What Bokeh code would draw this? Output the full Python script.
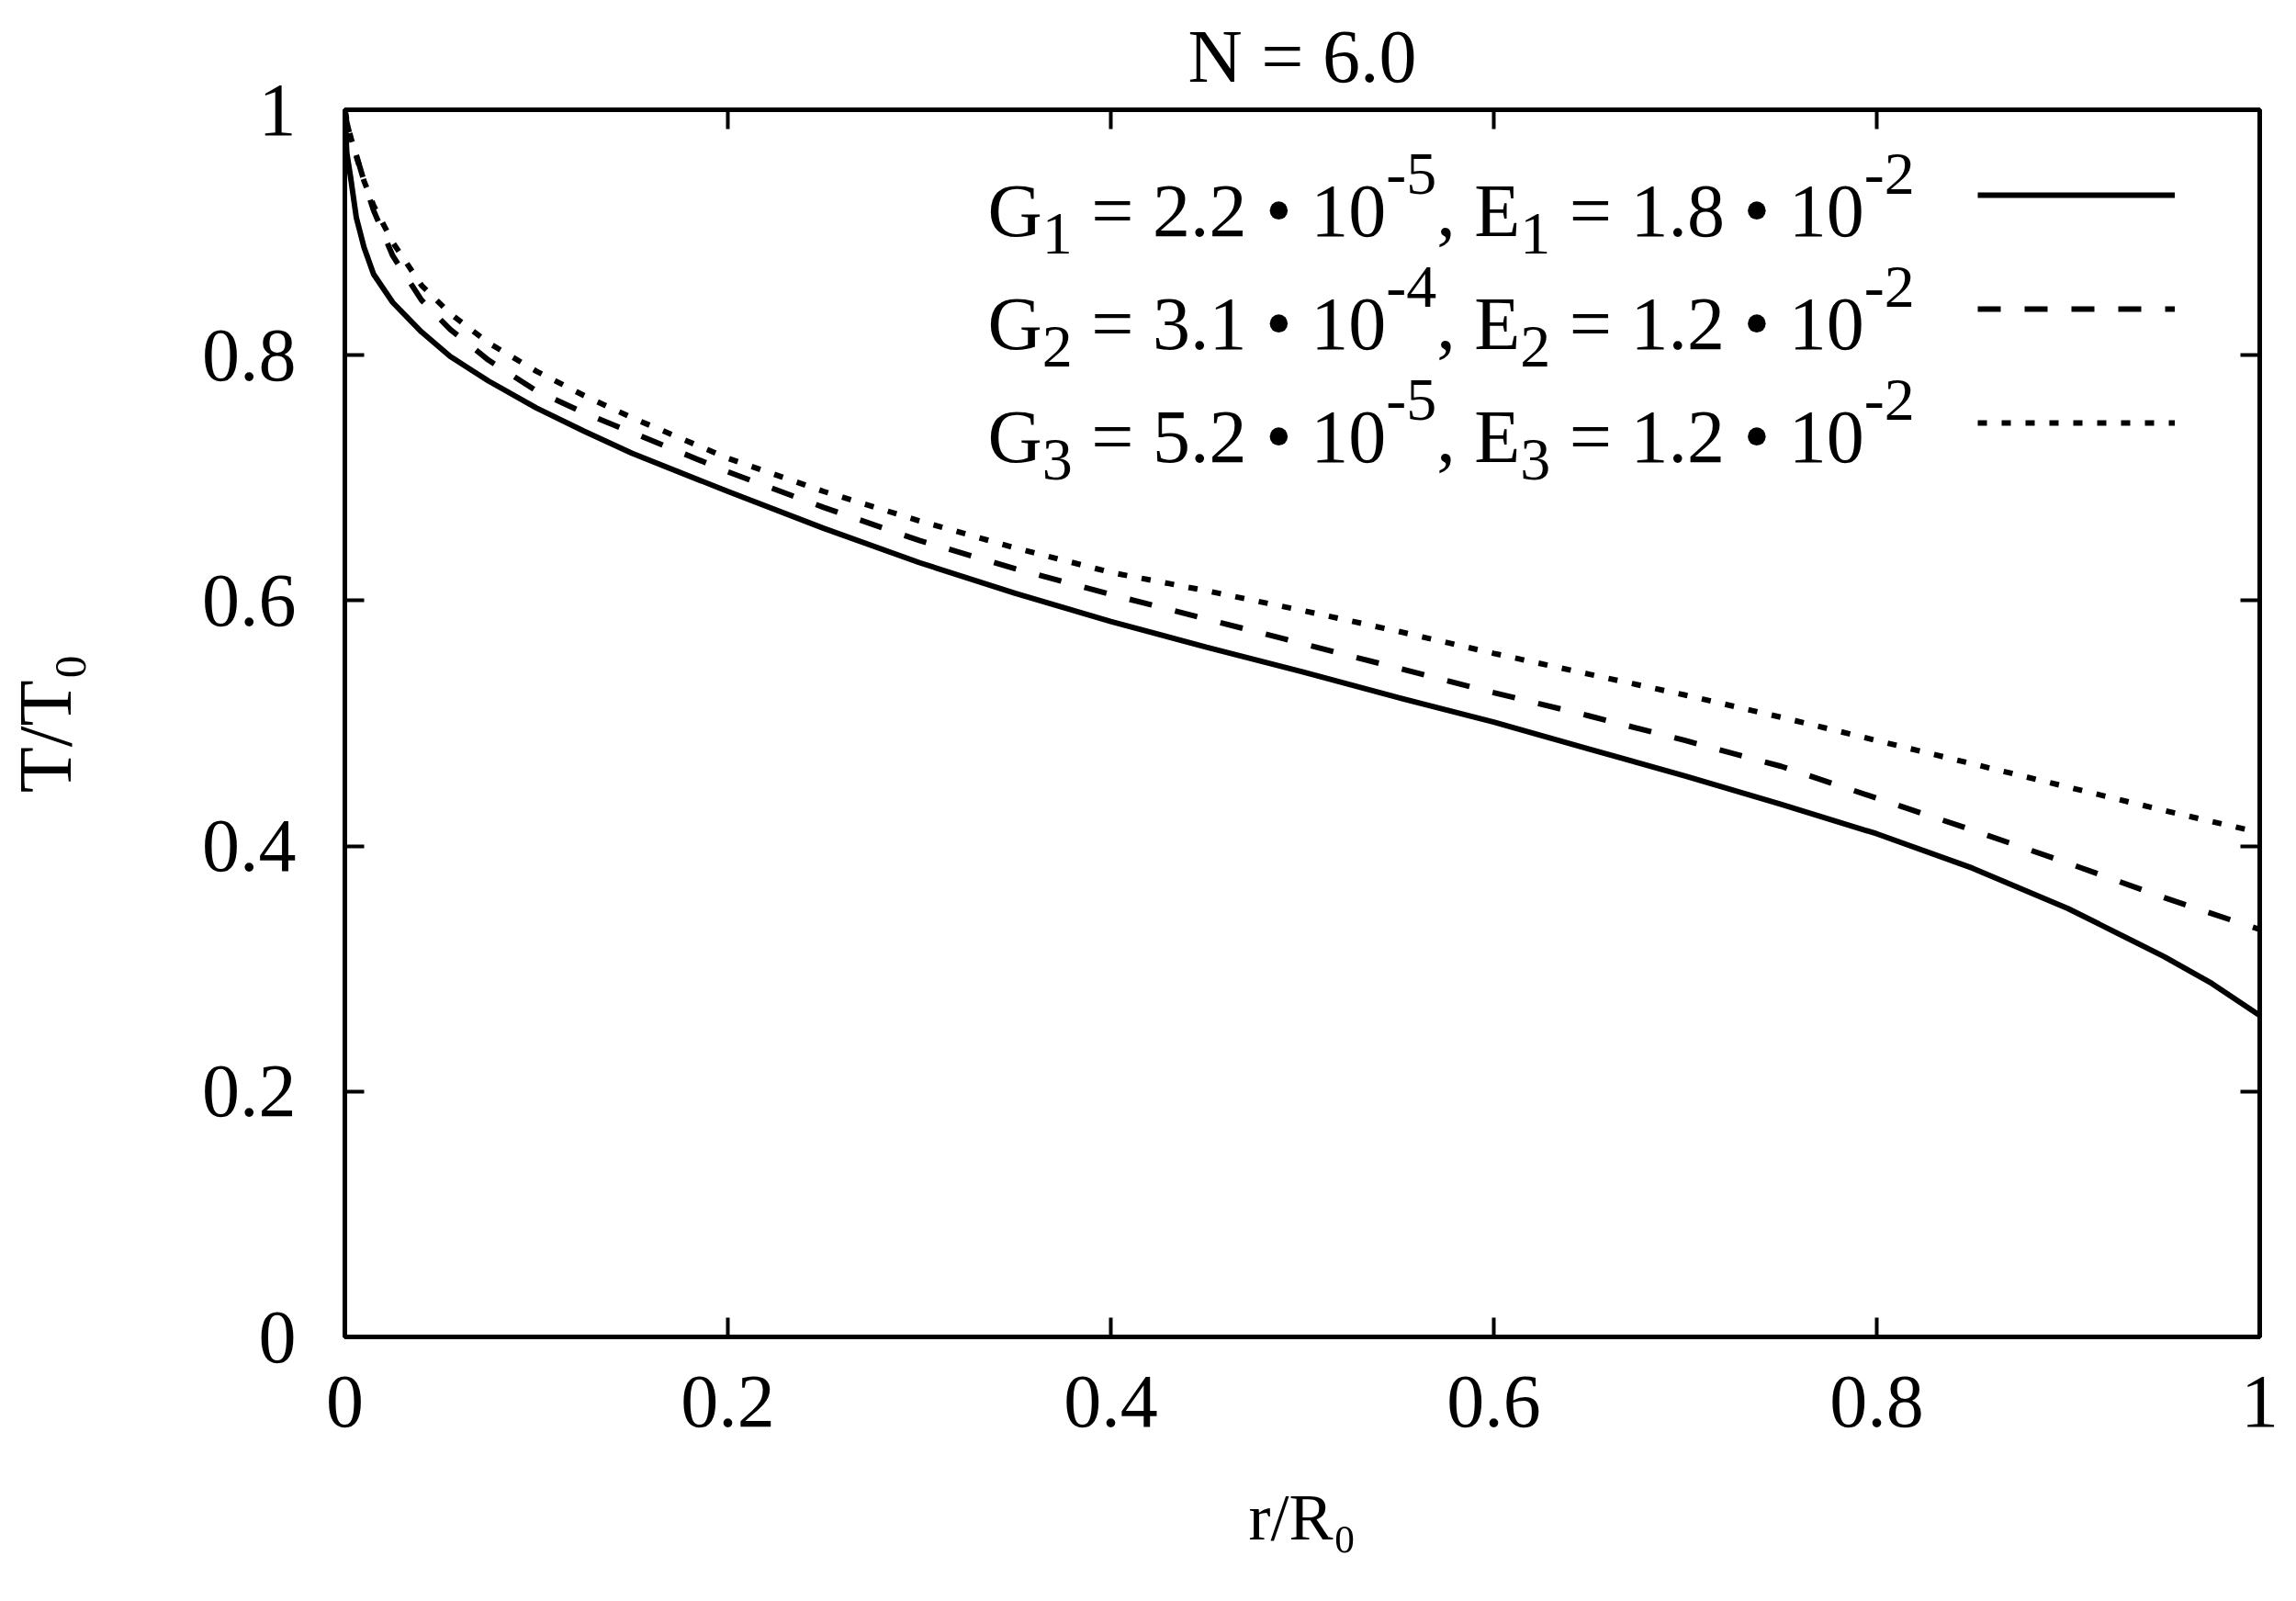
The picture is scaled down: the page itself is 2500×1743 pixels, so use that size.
from bokeh.plotting import figure
from bokeh.models import Label, Legend, LegendItem, LinearAxis, FixedTicker, Range1d
from bokeh.core.properties import value
from bokeh.embed import file_html
from bokeh.resources import INLINE

# ---------------- data ----------------
r = [0.0, 0.001, 0.003, 0.006, 0.01, 0.015, 0.025, 0.04, 0.055, 0.075, 0.1, 0.125, 0.15,
     0.2, 0.25, 0.3, 0.35, 0.4, 0.45, 0.5, 0.55, 0.6, 0.65, 0.7, 0.75, 0.8, 0.85, 0.9,
     0.95, 0.975, 1.0]
T_1 = [1.0, 0.965, 0.945, 0.912, 0.888, 0.866, 0.843, 0.819, 0.799, 0.779, 0.757, 0.738,
       0.720, 0.689, 0.659, 0.631, 0.606, 0.583, 0.562, 0.542, 0.521, 0.501, 0.479, 0.457,
       0.434, 0.410, 0.382, 0.349, 0.310, 0.288, 0.262]
T_2 = [1.0, 0.990, 0.977, 0.963, 0.942, 0.918, 0.881, 0.845, 0.821, 0.796, 0.771, 0.753,
       0.737, 0.705, 0.676, 0.649, 0.626, 0.605, 0.585, 0.565, 0.545, 0.525, 0.506, 0.486,
       0.465, 0.439, 0.413, 0.386, 0.358, 0.345, 0.332]
T_3 = [1.0, 0.992, 0.978, 0.962, 0.942, 0.922, 0.892, 0.857, 0.834, 0.810, 0.787, 0.767,
       0.749, 0.716, 0.689, 0.665, 0.643, 0.623, 0.608, 0.592, 0.575, 0.557, 0.540, 0.523,
       0.505, 0.486, 0.467, 0.448, 0.429, 0.420, 0.411]

x_ticks = [0, 0.2, 0.4, 0.6, 0.8, 1]
y_ticks = [0, 0.2, 0.4, 0.6, 0.8, 1]
tick_labels = {0: "0", 1: "1"}

title_text = "N = 6.0"
x_label = "r/R\u2080"
y_label = "T/T\u2080"
idx = ["1", "2", "3"]
G_val = ["2.2", "3.1", "5.2"]
G_exp = ["-5", "-4", "-5"]
E_val = ["1.8", "1.2", "1.2"]
E_exp = ["-2", "-2", "-2"]

# ---------------- figure ----------------
W, H = 2484, 1727
FONT = "Liberation Serif"
FS, FS_S = 82, 66
SUB, SUP = 25, 40

p = figure(width=W, height=H, output_backend="svg", toolbar_location=None,
           x_range=Range1d(0, 1), y_range=Range1d(0, 1),
           x_axis_type=None, y_axis_type=None,
           min_border_left=369, min_border_right=24,
           min_border_top=117, min_border_bottom=272)
p.background_fill_color = "white"
p.border_fill_color = "white"
p.outline_line_color = "black"
p.outline_line_width = 5
p.outline_line_alpha = 1.0

p.title.text = title_text
p.title.align = "center"
p.title.text_font = FONT
p.title.text_font_size = f"{FS}px"
p.title.text_font_style = "normal"
p.title.text_color = "black"
p.title.standoff = 26


def make_axis(ticks, labels, standoff, label=None, label_standoff=0, label_size=FS):
    ax = LinearAxis(ticker=FixedTicker(ticks=ticks))
    ax.major_tick_in = 21
    ax.major_tick_out = 0
    ax.major_tick_line_width = 4
    ax.major_tick_line_color = "black"
    ax.minor_tick_line_color = None
    ax.axis_line_color = None
    if labels:
        ax.major_label_text_font = FONT
        ax.major_label_text_font_size = f"{FS}px"
        ax.major_label_text_color = "black"
        ax.major_label_overrides = dict(tick_labels)
        ax.major_label_standoff = standoff
    else:
        ax.major_label_overrides = {t: "" for t in ticks}
        ax.major_label_text_font_size = "1px"
        ax.major_label_standoff = 0
    if label:
        ax.axis_label = label
        ax.axis_label_text_font = FONT
        ax.axis_label_text_font_size = f"{label_size}px"
        ax.axis_label_text_font_style = "normal"
        ax.axis_label_text_color = "black"
        ax.axis_label_text_line_height = 1.0
        ax.axis_label_standoff = label_standoff
    return ax


p.add_layout(make_axis(x_ticks, True, 43, x_label, 56, 72), "below")
p.add_layout(make_axis(y_ticks, True, 53, y_label, 122), "left")
p.add_layout(make_axis(x_ticks, False, 0), "above")
p.add_layout(make_axis(y_ticks, False, 0), "right")

r1 = p.line(r, T_1, line_color="black", line_width=6)
r2 = p.line(r, T_2, line_color="black", line_width=6, line_dash="25 26")
r3 = p.line(r, T_3, line_color="black", line_width=6, line_dash="10 16")

legend = Legend(items=[LegendItem(label=value(" "), renderers=[r1]),
                       LegendItem(label=value(" "), renderers=[r2]),
                       LegendItem(label=value(" "), renderers=[r3])],
                location="top_right", margin=31, padding=51, spacing=0,
                glyph_height=124, glyph_width=215, label_standoff=0, label_width=61,
                label_height=20, label_text_font_size="1px",
                border_line_color=None, background_fill_alpha=0)
p.add_layout(legend)

# ---------------- legend texts with sub/superscripts ----------------
ADV = {' ': 0.25, '\u00a0': 0.25, '=': 0.564, '.': 0.25, ',': 0.25, '\u2022': 0.35,
       '-': 0.333, 'G': 0.722, 'E': 0.611}
for d in "0123456789":
    ADV[d] = 0.5

FL, FB = 377, 1463  # frame left / bottom in page pixels


def tw(s, size):
    return sum(ADV[c] for c in s) * size


def rich(parts, img_x, img_y):
    X, Y = img_x - FL, FB - img_y
    pos = 0.0
    for txt, kind in parts:
        txt = txt.replace(" ", "\u00a0")
        size = FS if kind == "n" else FS_S
        shift = {"n": 0, "sub": -SUB, "sup": SUP}[kind]
        p.add_layout(Label(x=X + pos, y=Y + shift, x_units="screen", y_units="screen",
                           text=txt, text_font=FONT, text_font_size=f"{size}px",
                           text_align="left", text_baseline="alphabetic",
                           text_color="black"))
        pos += tw(txt, size)


for i in range(3):
    parts = [("G", "n"), (idx[i], "sub"), (f" = {G_val[i]} \u2022 10", "n"), (G_exp[i], "sup"),
             (", E", "n"), (idx[i], "sub"), (f" = {E_val[i]} \u2022 10", "n"), (E_exp[i], "sup")]
    rich(parts, 1077, 237 + 123 * i)

open("out.html", "w").write(file_html(p, INLINE))
